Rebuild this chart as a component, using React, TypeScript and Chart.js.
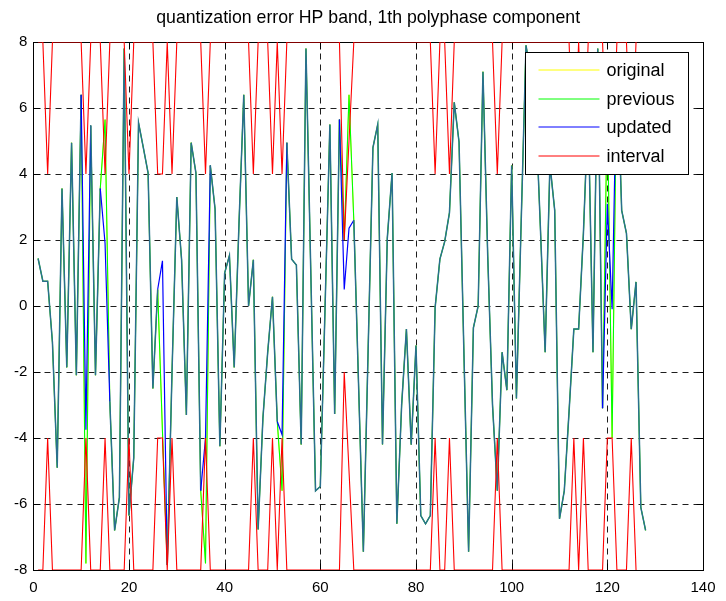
import React, { useEffect, useRef } from 'react';
import { Chart, registerables } from 'chart.js';

Chart.register(...registerables);

const titleText = 'quantization error HP band, 1th polyphase component';
const legendLabels = ['original', 'previous', 'updated', 'interval'];
const legendColors = ['#ffff00', '#00ff00', '#0000ff', '#ff0000'];
const xTickValues = [0, 20, 40, 60, 80, 100, 120, 140];
const yTickValues = [-8, -6, -4, -2, 0, 2, 4, 6, 8];

// samples n = 1..128
const updated = [
  1.44, 0.75, 0.75, -1.1, -4.9, 3.56, -1.86, 4.95, -2.1, 6.4,
  -3.75, 5.47, -2.1, 3.56, 1.9, -2.9, -6.8, -5.8, 7.8, -6.35,
  -4.6, 5.55, 4.8, 4.03, -2.5, 0.5, 1.37, -7.85, -2.0, 3.3,
  1.4, -3.3, 4.95, 4.03, -5.6, -4.0, 4.26, 2.94, -4.25, 1.0,
  1.53, -1.86, 2.5, 6.4, 0.0, 1.4, -6.77, -3.4, -1.4, 0.28,
  -3.5, -3.9, 4.95, 1.42, 1.24, -4.2, 7.8, 1.1, -5.6, -5.47,
  0.0, 5.5, -3.27, 5.65, 0.5, 2.36, 2.6, -2.4, -7.45, -1.3,
  4.8, 5.5, -4.2, 2.05, 4.03, -6.6, -3.0, -0.7, -4.2, -1.2,
  -6.35, -6.6, -6.35, -0.05, 1.42, 1.95, 2.83, 6.17, 4.97, -1.3,
  -7.45, -0.66, 0.0, 7.1, 1.5, -3.0, -5.6, -1.4, -2.55, 4.26,
  -2.8, 2.6, 7.9, 7.0, 6.0, 2.4, -1.4, 4.3, 2.9, -6.45,
  -5.6, -3.2, -0.7, -0.7, 2.2, 6.0, -1.4, 7.8, -3.1, 3.1,
  -0.1, 7.5, 2.9, 2.2, -0.7, 0.73, -6.1, -6.8,
];

const previous = [
  1.44, 0.75, 0.75, -1.1, -4.9, 3.56, -1.86, 4.95, -2.1, 6.4,
  -7.8, 5.47, -2.1, 3.56, 5.65, -2.9, -6.8, -5.8, 7.8, -6.35,
  -4.6, 5.55, 4.8, 4.03, -2.5, 0.5, -3.8, -7.85, -2.0, 3.3,
  1.4, -3.3, 4.95, 4.03, -5.6, -7.8, 4.26, 2.94, -4.25, 1.0,
  1.53, -1.86, 2.5, 6.4, 0.0, 1.4, -6.77, -3.4, -1.4, 0.28,
  -3.5, -5.6, 4.95, 1.42, 1.24, -4.2, 7.8, 1.1, -5.6, -5.47,
  0.0, 5.5, -3.27, 5.65, 2.0, 6.4, 2.6, -2.4, -7.45, -1.3,
  4.8, 5.5, -4.2, 2.05, 4.03, -6.6, -3.0, -0.7, -4.2, -1.2,
  -6.35, -6.6, -6.35, -0.05, 1.42, 1.95, 2.83, 6.17, 4.97, -1.3,
  -7.45, -0.66, 0.0, 7.1, 1.5, -3.0, -5.6, -1.4, -2.55, 4.26,
  -2.8, 2.6, 7.9, 7.0, 6.0, 2.4, -1.4, 4.3, 2.9, -6.45,
  -5.6, -3.2, -0.7, -0.7, 2.2, 6.0, -1.4, 7.8, -3.1, 6.2,
  -4.0, 7.5, 2.9, 2.2, -0.7, 0.73, -6.1, -6.8,
];

const original = [
  1.44, 0.75, 0.75, -1.1, -4.9, 3.56, -1.86, 4.95, -2.1, 6.4,
  -7.8, 5.47, -2.1, 3.56, 5.65, -2.9, -6.8, -5.8, 7.8, -6.35,
  -4.6, 5.55, 4.8, 4.03, -2.5, 0.5, -3.8, -7.85, -2.0, 3.3,
  1.4, -3.3, 4.95, 4.03, -5.6, -7.8, 4.26, 2.94, -4.25, 1.0,
  1.53, -1.86, 2.5, 6.4, 0.0, 1.4, -6.77, -3.4, -1.4, 0.28,
  -3.5, -5.6, 4.95, 1.42, 1.24, -4.2, 7.8, 1.1, -5.6, -5.47,
  0.0, 5.5, -3.27, 5.65, 2.0, 6.4, 2.6, -2.4, -7.45, -1.3,
  4.8, 5.5, -4.2, 2.05, 4.03, -6.6, -3.0, -0.7, -4.2, -1.2,
  -6.35, -6.6, -6.35, -0.05, 1.42, 1.95, 2.83, 6.17, 4.97, -1.3,
  -7.45, -0.66, 0.0, 7.1, 1.5, -3.0, -5.6, -1.4, -2.55, 4.26,
  -2.8, 2.6, 7.9, 7.0, 6.0, 2.4, -1.4, 4.3, 2.9, -6.45,
  -5.6, -3.2, -0.7, -0.7, 2.2, 6.0, -1.4, 7.8, -3.1, 6.2,
  -4.0, 7.5, 2.9, 2.2, -0.7, 0.73, -6.1, -6.8,
];

// interval bounds n = 1..126
const intervalUpper = [
  8, 8, 4, 8, 8, 8, 8, 8, 8, 8,
  4, 8, 8, 8, 4, 8, 8, 8, 8, 4,
  8, 8, 8, 8, 8, 4, 4, 8, 4, 8,
  8, 8, 8, 8, 8, 4, 8, 8, 8, 8,
  8, 8, 8, 8, 8, 4, 8, 8, 8, 4,
  8, 4, 8, 8, 8, 8, 8, 8, 8, 8,
  8, 8, 8, 8, 2, 5, 8, 8, 8, 8,
  8, 8, 8, 8, 8, 8, 8, 8, 8, 8,
  8, 8, 8, 4, 8, 8, 4, 8, 8, 8,
  8, 8, 8, 8, 8, 8, 4, 8, 8, 8,
  8, 8, 8, 8, 8, 8, 8, 8, 8, 8,
  8, 8, 4, 8, 4, 8, 8, 8, 8, 4,
  4, 8, 8, 8, 4, 8,
];

const intervalLower = [
  -8, -8, -4, -8, -8, -8, -8, -8, -8, -8,
  -4, -8, -8, -8, -4, -8, -8, -8, -8, -4,
  -8, -8, -8, -8, -8, -4, -4, -8, -4, -8,
  -8, -8, -8, -8, -8, -4, -8, -8, -8, -8,
  -8, -8, -8, -8, -8, -4, -8, -8, -8, -4,
  -8, -4, -8, -8, -8, -8, -8, -8, -8, -8,
  -8, -8, -8, -8, -2, -5, -8, -8, -8, -8,
  -8, -8, -8, -8, -8, -8, -8, -8, -8, -8,
  -8, -8, -8, -4, -8, -8, -4, -8, -8, -8,
  -8, -8, -8, -8, -8, -8, -4, -8, -8, -8,
  -8, -8, -8, -8, -8, -8, -8, -8, -8, -8,
  -8, -8, -4, -8, -4, -8, -8, -8, -8, -4,
  -4, -8, -8, -8, -4, -8,
];

const FONT = '"Liberation Sans", Arial, Helvetica, sans-serif';
const BLUE = '#0000ff';
const GREEN = '#00ff00';
const TEAL = '#2a6f8e';

function toPoints(arr: number[]) {
  return arr.map((v, i) => ({ x: i + 1, y: v }));
}

const matlabPlugin = {
  id: 'matlabLook',
  beforeDatasetsDraw(chart: any) {
    const { ctx, chartArea: a, scales } = chart;
    const xs = scales.x;
    const ys = scales.y;
    const L = Math.round(a.left) + 0.5;
    const R = Math.round(a.right) + 0.5;
    const T = Math.round(a.top) + 0.5;
    const B = Math.round(a.bottom) + 0.5;
    ctx.save();
    ctx.lineWidth = 1;
    ctx.strokeStyle = '#1e1e1e';
    ctx.setLineDash([6, 5]);
    ctx.beginPath();
    for (const t of xTickValues) {
      if (t === xs.min || t === xs.max) continue;
      const px = Math.round(xs.getPixelForValue(t)) + 0.5;
      ctx.moveTo(px, T);
      ctx.lineTo(px, B);
    }
    for (const t of yTickValues) {
      if (t === ys.min || t === ys.max) continue;
      const py = Math.round(ys.getPixelForValue(t)) + 0.5;
      ctx.moveTo(L, py);
      ctx.lineTo(R, py);
    }
    ctx.stroke();
    ctx.setLineDash([]);
    ctx.strokeStyle = '#000';
    ctx.strokeRect(L, T, R - L, B - T);
    const tl = 7;
    ctx.beginPath();
    for (const t of xTickValues) {
      const px = Math.round(xs.getPixelForValue(t)) + 0.5;
      ctx.moveTo(px, B);
      ctx.lineTo(px, B - tl);
      ctx.moveTo(px, T);
      ctx.lineTo(px, T + tl);
    }
    for (const t of yTickValues) {
      const py = Math.round(ys.getPixelForValue(t)) + 0.5;
      ctx.moveTo(L, py);
      ctx.lineTo(L + tl, py);
      ctx.moveTo(R, py);
      ctx.lineTo(R - tl, py);
    }
    ctx.stroke();
    ctx.restore();
  },
  afterDatasetsDraw(chart: any) {
    const { ctx, chartArea: a } = chart;
    const bw = 163;
    const bh = 122;
    const bx = Math.round(a.right - 15 - bw) + 0.5;
    const by = Math.round(a.top + 10) + 0.5;
    ctx.save();
    ctx.fillStyle = '#ffffff';
    ctx.fillRect(bx, by, bw, bh);
    ctx.strokeStyle = '#000';
    ctx.lineWidth = 1;
    ctx.strokeRect(bx, by, bw, bh);
    ctx.font = `18px ${FONT}`;
    ctx.textBaseline = 'middle';
    ctx.textAlign = 'left';
    legendLabels.forEach((lab, i) => {
      const cy = Math.round(by + 17.5 + i * 28.5);
      ctx.strokeStyle = legendColors[i];
      ctx.beginPath();
      ctx.moveTo(bx + 13, cy);
      ctx.lineTo(bx + 74, cy);
      ctx.stroke();
      ctx.fillStyle = '#000';
      ctx.fillText(lab, bx + 81, cy + 1);
    });
    ctx.restore();
  },
  afterDraw(chart: any) {
    const { ctx, chartArea: a } = chart;
    ctx.save();
    ctx.font = `17.7px ${FONT}`;
    ctx.fillStyle = '#000';
    ctx.textAlign = 'center';
    ctx.textBaseline = 'middle';
    ctx.fillText(titleText, (a.left + a.right) / 2, 18);
    ctx.restore();
  },
};

export default function App() {
  const canvasRef = useRef<HTMLCanvasElement | null>(null);

  useEffect(() => {
    const canvas = canvasRef.current;
    if (!canvas) return;
    const base = { pointRadius: 0, fill: false, tension: 0 };
    const chart = new Chart(canvas, {
      type: 'line',
      data: {
        datasets: [
          { label: legendLabels[0], data: toPoints(original), borderColor: '#ffff00', borderWidth: 1, order: 5, ...base },
          { label: legendLabels[1], data: toPoints(previous), borderColor: GREEN, borderWidth: 1.1, order: 4, ...base },
          {
            label: legendLabels[2],
            data: toPoints(updated),
            borderColor: BLUE,
            borderWidth: 1.5,
            order: 3,
            ...base,
            segment: {
              borderColor: (c: any) => {
                const i0 = c.p0DataIndex;
                const i1 = c.p1DataIndex;
                return previous[i0] === updated[i0] && previous[i1] === updated[i1] ? TEAL : BLUE;
              },
              borderWidth: (c: any) => {
                const i0 = c.p0DataIndex;
                const i1 = c.p1DataIndex;
                return previous[i0] === updated[i0] && previous[i1] === updated[i1] ? 1.5 : 1.2;
              },
            },
          },
          { label: legendLabels[3], data: toPoints(intervalUpper), borderColor: '#ff0000', borderWidth: 1.1, order: 2, ...base },
          { label: legendLabels[3], data: toPoints(intervalLower), borderColor: '#ff0000', borderWidth: 1.1, order: 1, ...base },
        ] as any,
      },
      options: {
        responsive: false,
        animation: false,
        events: [],
        layout: { padding: { left: 0, right: 23, top: 42, bottom: 0 } },
        plugins: {
          legend: { display: false },
          title: { display: false },
          tooltip: { enabled: false },
        },
        scales: {
          x: {
            type: 'linear',
            min: 0,
            max: 140,
            afterBuildTicks: (s: any) => {
              s.ticks = xTickValues.map((v) => ({ value: v }));
            },
            afterFit: (s: any) => {
              s.height = 31;
            },
            grid: { display: false, drawTicks: false },
            border: { display: false },
            ticks: {
              font: { family: FONT, size: 15 },
              color: '#000',
              padding: 9,
              maxRotation: 0,
              autoSkip: false,
            },
          },
          y: {
            type: 'linear',
            min: -8,
            max: 8,
            afterBuildTicks: (s: any) => {
              s.ticks = yTickValues.map((v) => ({ value: v }));
            },
            afterFit: (s: any) => {
              s.width = 33.3;
            },
            grid: { display: false, drawTicks: false },
            border: { display: false },
            ticks: {
              font: { family: FONT, size: 15 },
              color: '#000',
              padding: 6,
              autoSkip: false,
            },
          },
        },
      } as any,
      plugins: [matlabPlugin],
    });
    return () => chart.destroy();
  }, []);

  return (
    <div style={{ position: 'absolute', left: 0, top: 0, width: 726, height: 601, background: '#fff' }}>
      <canvas ref={canvasRef} width={726} height={601} style={{ display: 'block' }} />
    </div>
  );
}
